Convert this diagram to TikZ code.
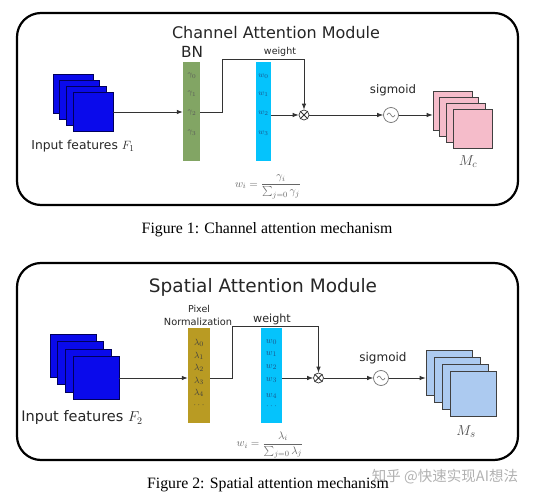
\documentclass[tikz,border=0pt]{standalone}
\usepackage[no-math]{fontspec}
\setmainfont{DejaVu Sans}
\newfontfamily\capfont{Liberation Serif}
\newfontfamily\cjk{Noto Sans CJK SC}
\usetikzlibrary{arrows.meta,calc}
\definecolor{inblue}{RGB}{10,10,235}
\definecolor{inedge}{RGB}{0,0,90}
\definecolor{bngreen}{RGB}{130,165,100}
\definecolor{wcyan}{RGB}{5,195,252}
\definecolor{olive}{RGB}{185,155,35}
\definecolor{pinkf}{RGB}{245,188,202}
\definecolor{lbluef}{RGB}{172,202,240}
\definecolor{wlab}{RGB}{25,85,140}
\tikzset{
  panel/.style={draw=black,line width=2.2pt,rounded corners=24pt},
  sqr/.style={draw=inedge,fill=inblue,line width=0.6pt,inner sep=0pt},
  osqr/.style={draw=black!75,line width=0.7pt,inner sep=0pt},
  bar/.style={inner sep=0pt},
  arr/.style={draw=black!80,line width=0.8pt,-{Latex[length=6pt,width=4.5pt]}},
  ln/.style={draw=black!80,line width=0.8pt},
  mult/.style={circle,draw=black!80,line width=0.7pt,inner sep=0pt,minimum size=10pt},
  sigc/.style={circle,draw=black!55,line width=0.7pt,inner sep=0pt,minimum size=15pt},
  lab/.style={inner sep=0pt,text=black!85},
  barlab/.style={inner sep=0pt,font=\fontsize{8.5}{9}\selectfont},
  barlabb/.style={inner sep=0pt,font=\fontsize{9.5}{10}\selectfont},
}
\begin{document}
\begin{tikzpicture}[x=1pt,y=-1pt]
\useasboundingbox[fill=white] (0,0) rectangle (542,500);
% ================= top panel =================
\draw[panel] (17,13) rectangle (518,205);
\node[lab,font=\fontsize{16}{18}\selectfont] (t1) at (276,33) {Channel Attention Module};
% input stack
\foreach \k in {1,...,4}{
  \node[sqr,minimum width=40pt,minimum height=39pt] (in\k) at ({73+6.7*(\k-1)},{94+6*(\k-1)}) {};
}
\node[lab,font=\fontsize{12.3}{14}\selectfont] (inl1) at (83,146) {Input features $F_1$};
% BN bar
\node[bar,fill=bngreen,minimum width=17pt,minimum height=99pt] (bn) at (191.5,112) {};
\node[lab,font=\fontsize{15.3}{17}\selectfont] (bnl) at (192,52) {BN};
\foreach \i/\yy in {0/76,1/94,2/113,3/133}{
  \node[barlab,text=black!65] (g\i) at (192,\yy) {$\gamma_\i$};
}
% weight bar
\node[bar,fill=wcyan,minimum width=15pt,minimum height=99pt] (wc) at (263.5,112) {};
\foreach \i/\yy in {0/76,1/94,2/113,3/133}{
  \node[barlab,text=wlab] (w\i) at (263.5,\yy) {$w_\i$};
}
\node[lab,font=\fontsize{9.5}{11}\selectfont] (wl1) at (280,52) {weight};
% multiply
\node[mult] (x1) at (304,115) {};
\draw[ln] (x1.north west) -- (x1.south east) (x1.north east) -- (x1.south west);
% sigmoid
\node[sigc] (sg1) at (391,115) {};
\draw[black!55,line width=0.6pt] ($(sg1.center)+(-4,0)$) sin ++(2,-2) cos ++(2,2) sin ++(2,2) cos ++(2,-2);
\node[lab,font=\fontsize{11.7}{13}\selectfont] (sgl1) at (393,90) {sigmoid};
% pink stack
\foreach \k in {1,...,4}{
  \node[osqr,fill=pinkf,minimum width=39pt,minimum height=39pt] (pk\k) at ({452.5+6.7*(\k-1)},{110.5+6*(\k-1)}) {};
}
\node[lab,text=black!70,font=\fontsize{14}{16}\selectfont] (mc) at (468,162) {$M_c$};
% formula
\node[lab,text=black!60,font=\fontsize{11}{13}\selectfont] (f1) at (268,187) {$\displaystyle w_i=\frac{\gamma_i}{\sum_{j=0}\gamma_j}$};
% connectors
\coordinate (e1) at (222,59);
\draw[arr] (in4.east |- bn) -- (bn.west);
\draw[arr] (bn.east) -- (bn.east -| e1) -- (e1) -| (x1.north);
\draw[arr] (wc.east |- x1) -- (x1.west);
\draw[arr] (x1.east) -- (sg1.west);
\draw[arr] (sg1.east) -- (sg1.east -| pk1.west);
\node[lab,text=black,font=\capfont\fontsize{15.8}{18}\selectfont] (c1) at (267,230) {Figure 1: Channel attention mechanism};
% ================= bottom panel =================
\draw[panel] (17,263) rectangle (518,460);
\node[lab,font=\fontsize{18.5}{21}\selectfont] (t2) at (263,287) {Spatial Attention Module};
\foreach \k in {1,...,4}{
  \node[sqr,minimum width=46pt,minimum height=43pt] (ib\k) at ({73+7.7*(\k-1)},{355.5+7.6*(\k-1)}) {};
}
\node[lab,font=\fontsize{14.5}{16}\selectfont] (inl2) at (82,418) {Input features $F_2$};
% pixel norm bar
\node[bar,fill=olive,minimum width=22pt,minimum height=95pt] (ob) at (199,375.5) {};
\node[lab,font=\fontsize{9.5}{11}\selectfont] (pxl) at (199,309) {Pixel};
\node[lab,font=\fontsize{9.8}{11}\selectfont] (nrl) at (198,322) {Normalization};
\foreach \i/\yy in {0/343,1/356,2/368,3/381,4/393}{
  \node[barlabb,text=black!75] (l\i) at (199,\yy) {$\lambda_\i$};
}
\node[barlabb,text=black!75] (ld) at (199,405) {$\cdots$};
% weight bar
\node[bar,fill=wcyan,minimum width=21pt,minimum height=95pt] (cy2) at (271.5,375.5) {};
\foreach \i/\yy in {0/342,1/354,2/367,3/380,4/396}{
  \node[barlabb,text=wlab] (v\i) at (271.5,\yy) {$w_\i$};
}
\node[barlabb,text=wlab] (vd) at (271.5,406) {$\cdots$};
\node[lab,font=\fontsize{11.2}{13}\selectfont] (wl2) at (272,319) {weight};
% multiply
\node[mult] (x2) at (318.5,378) {};
\draw[ln] (x2.north west) -- (x2.south east) (x2.north east) -- (x2.south west);
% sigmoid
\node[sigc] (sg2) at (381,378) {};
\draw[black!55,line width=0.6pt] ($(sg2.center)+(-4,0)$) sin ++(2,-2) cos ++(2,2) sin ++(2,2) cos ++(2,-2);
\node[lab,font=\fontsize{12}{14}\selectfont] (sgl2) at (383,358) {sigmoid};
% light blue stack
\foreach \k in {1,...,4}{
  \node[osqr,fill=lbluef,minimum width=46pt,minimum height=45pt] (lb\k) at ({449+8*(\k-1)},{372.5+7.2*(\k-1)}) {};
}
\node[lab,text=black!70,font=\fontsize{15}{17}\selectfont] (ms) at (466,432) {$M_s$};
\node[lab,text=black!60,font=\fontsize{11}{13}\selectfont] (f2) at (270,445) {$\displaystyle w_i=\frac{\lambda_i}{\sum_{j=0}\lambda_j}$};
% connectors
\coordinate (e2) at (232,326);
\draw[arr] (ib4.east |- x2) -- (ob.west |- x2);
\draw[arr] (ob.east |- x2) -- (e2 |- x2) -- (e2) -| (x2.north);
\draw[arr] (cy2.east |- x2) -- (x2.west);
\draw[arr] (x2.east) -- (sg2.west);
\draw[arr] (sg2.east) -- (sg2.east -| lb1.west);
\node[lab,text=black!30,font=\cjk\fontsize{14.5}{16}\selectfont] (wm) at (445,477) {知乎 @快速实现AI想法};
\node[lab,text=black,font=\capfont\fontsize{15.8}{18}\selectfont] (c2) at (268,485) {Figure 2: Spatial attention mechanism};
\end{tikzpicture}
\end{document}
